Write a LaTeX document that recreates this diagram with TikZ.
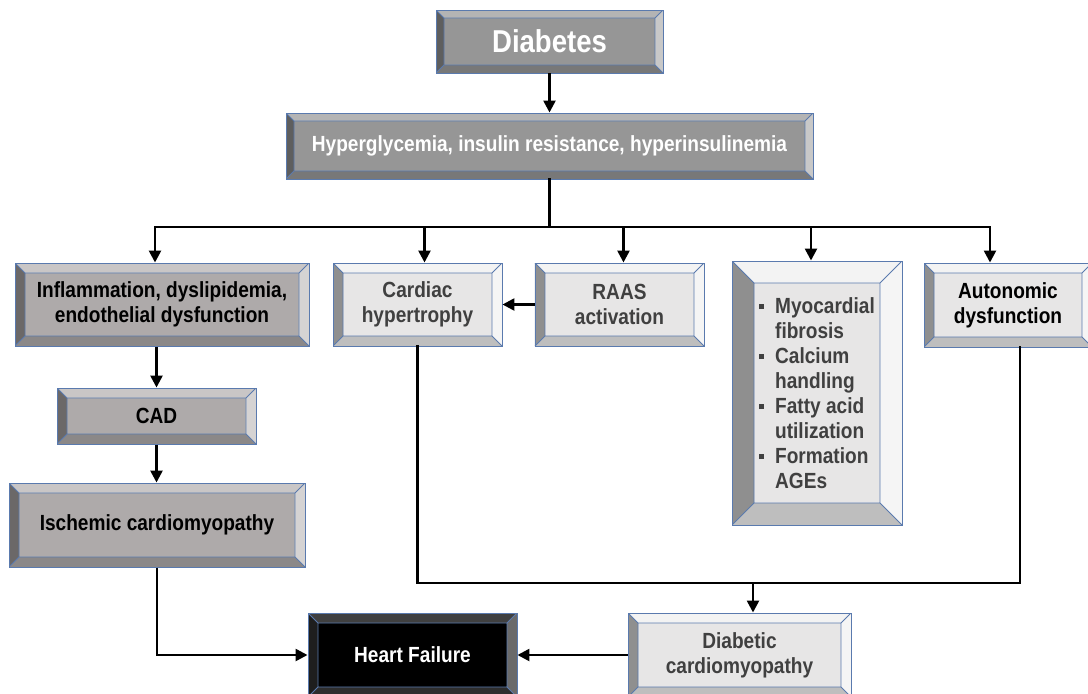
\documentclass[tikz,border=0pt]{standalone}
\usepackage{fontspec}
\setmainfont{Liberation Sans}[FakeStretch=0.87]
\usetikzlibrary{arrows.meta,positioning,calc}
\definecolor{bordblue}{HTML}{5A7AAE}
\definecolor{darkfill}{HTML}{969696}
\definecolor{darktop}{HTML}{B4B4B4}
\definecolor{darkleft}{HTML}{5E5E5E}
\definecolor{darkbot}{HTML}{787878}
\definecolor{darkright}{HTML}{C8C8C8}
\definecolor{taupefill}{HTML}{AEAAAA}
\definecolor{taupetop}{HTML}{C9C6C6}
\definecolor{taupeleft}{HTML}{6B6868}
\definecolor{taupebot}{HTML}{8B8888}
\definecolor{tauperight}{HTML}{D5D3D3}
\definecolor{lightfill}{HTML}{E7E6E6}
\definecolor{lighttop}{HTML}{F3F3F3}
\definecolor{lightleft}{HTML}{8F8F8F}
\definecolor{lightbot}{HTML}{BEBEBE}
\definecolor{lightright}{HTML}{F5F5F5}
\definecolor{blacktop}{HTML}{404040}
\definecolor{blackleft}{HTML}{1E1E1E}
\definecolor{blackbot}{HTML}{2E2E2E}
\definecolor{blackright}{HTML}{6A6A6A}
\definecolor{greytext}{HTML}{404040}

\tikzset{
  bevel size/.store in=\bvsize, bevel size=0.25cm,
  bevel top/.store in=\bvtop, bevel left/.store in=\bvleft,
  bevel bottom/.store in=\bvbot, bevel right/.store in=\bvright
}
\newcommand{\drawbevel}{%
  \coordinate (bnw) at (path picture bounding box.north west);
  \coordinate (bne) at (path picture bounding box.north east);
  \coordinate (bsw) at (path picture bounding box.south west);
  \coordinate (bse) at (path picture bounding box.south east);
  \coordinate (inw) at ([shift={(\bvsize,-\bvsize)}]bnw);
  \coordinate (ine) at ([shift={(-\bvsize,-\bvsize)}]bne);
  \coordinate (isw) at ([shift={(\bvsize,\bvsize)}]bsw);
  \coordinate (ise) at ([shift={(-\bvsize,\bvsize)}]bse);
  \fill[\bvtop] (bnw) -- (bne) -- (ine) -- (inw) -- cycle;
  \fill[\bvleft] (bnw) -- (inw) -- (isw) -- (bsw) -- cycle;
  \fill[\bvbot] (bsw) -- (isw) -- (ise) -- (bse) -- cycle;
  \fill[\bvright] (bse) -- (ise) -- (ine) -- (bne) -- cycle;
  \draw[bordblue, line width=0.6pt] (inw) rectangle (ise)
    (bnw) -- (inw) (bne) -- (ine) (bsw) -- (isw) (bse) -- (ise);
}
\newcommand{\sqbul}{\makebox[11.4pt][l]{\raisebox{3pt}{\rule{3.8pt}{3.8pt}}}}
\newcommand{\bulindent}{\hspace*{11.4pt}}

\begin{document}
\begin{tikzpicture}[
    x=0.025cm, y=-0.025cm,
    boxsize/.style 2 args={minimum width=#1*0.025cm, minimum height=#2*0.025cm},
    bevelbox/.style={rectangle, draw=bordblue, line width=0.7pt, inner sep=0pt, align=center,
      font=\bfseries\fontsize{15.6}{17.8}\selectfont, path picture={\drawbevel}},
    darkbox/.style={bevelbox, fill=darkfill, text=white, bevel size=0.2cm,
      bevel top=darktop, bevel left=darkleft, bevel bottom=darkbot, bevel right=darkright},
    taupebox/.style={bevelbox, fill=taupefill, text=black,
      bevel top=taupetop, bevel left=taupeleft, bevel bottom=taupebot, bevel right=tauperight},
    lightbox/.style={bevelbox, fill=lightfill, text=greytext,
      bevel top=lighttop, bevel left=lightleft, bevel bottom=lightbot, bevel right=lightright},
    blackbox/.style={bevelbox, fill=black, text=white,
      bevel top=blacktop, bevel left=blackleft, bevel bottom=blackbot, bevel right=blackright},
    conn/.style={line width=1.8pt, line cap=rect},
    arr/.style={-{Triangle[length=8.5pt,width=8.5pt]}, line width=1.8pt}
]
\useasboundingbox (0,0) rectangle (1088,693);

% top of the chart
\node[darkbox, boxsize={227}{63}, font=\bfseries\fontsize{22.5}{26}\selectfont] (diab) at (549.5,41.5) {Diabetes};
\node[darkbox, boxsize={527}{66}] (hyper) at (549.5,146) {Hyperglycemia, insulin resistance, hyperinsulinemia};

% second row
\node[taupebox, boxsize={294}{83}] (inflam) at (162,304.5) {Inflammation, dyslipidemia,\\endothelial dysfunction};
\node[lightbox, boxsize={169}{83}] (cardiac) at (417.5,304.5) {Cardiac\\hypertrophy};
\node[lightbox, boxsize={169}{83}, right=0.8cm of cardiac] (raas) {RAAS\\activation};
\node[lightbox, boxsize={170}{264}, bevel size=0.55cm, align=left] (myo) at (817,393)
  {\sqbul Myocardial\\\bulindent fibrosis\\\sqbul Calcium\\\bulindent handling\\\sqbul Fatty acid\\\bulindent utilization\\\sqbul Formation\\\bulindent AGEs};
\node[lightbox, text=black, boxsize={168}{84}] (auton) at (1008,305) {Autonomic\\dysfunction};

% left column
\node[taupebox, boxsize={199}{56}] (cad) at (156.5,416) {CAD};
\node[taupebox, boxsize={296}{84}] (isch) at (157,525) {Ischemic cardiomyopathy};

% bottom row
\node[blackbox, boxsize={209}{84}] (hf) at (412.5,655) {Heart Failure};
\node[lightbox, boxsize={223}{84}] (diabcm) at (739.5,655) {Diabetic\\cardiomyopathy};

% connectors
\coordinate (bus) at (549.5,227);
\coordinate (join) at (753,583);
\draw[arr] (diab) -- (hyper);
\draw[conn] (hyper) -- (bus);
\draw[conn] ($(inflam.north |- bus)+(-7,0)$) -- ($(auton.north |- bus)+(-18,0)$);
\foreach \n/\dx in {inflam/-7,cardiac/7,raas/4,myo/-6,auton/-18}
  \draw[arr] ($(\n.north |- bus)+(\dx,0)$) -- ($(\n.north)+(\dx,0)$);
\draw[arr] (inflam.south -| cad.north) -- (cad.north);
\draw[arr] (cad.south) -- (cad.south |- isch.north);
\draw[arr] (isch.south) |- (hf);
\draw[arr] (raas) -- (cardiac);
\draw[arr] (diabcm) -- (hf);
\draw[conn] (cardiac.south) |- (join) -| ($(auton.south)+(12,0)$);
\draw[arr] (join) -- (join |- diabcm.north);

\end{tikzpicture}
\end{document}
